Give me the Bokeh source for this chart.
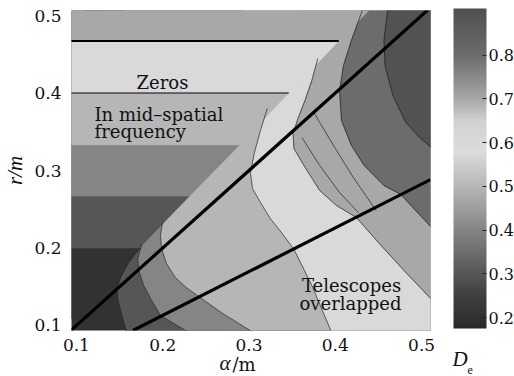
import numpy as np
from bokeh.plotting import figure
from bokeh.models import ColumnDataSource, LinearColorMapper, ColorBar, Label, FixedTicker
from bokeh.embed import file_html
from bokeh.resources import INLINE

# ---------------- data ----------------
x_ticks = [0.1, 0.2, 0.3, 0.4, 0.5]
y_ticks = [0.1, 0.2, 0.3, 0.4, 0.5]
cb_ticks = [0.2, 0.3, 0.4, 0.5, 0.6, 0.7, 0.8]

# "zeros in mid-spatial frequency" side: D_e depends on r only, in steps,
# left of the step boundary (alpha ~ 0.866 r)
step_r = [0.104, 0.2, 0.267, 0.333, 0.4, 0.467, 0.51]
step_alpha = [0.09, 0.173, 0.231, 0.289, 0.346, 0.404, 0.442]
step_De = [0.2, 0.3, 0.4, 0.5, 0.6, 0.7]

# contour boundaries elsewhere (alpha, r), listed top to bottom;
# the level named is the D_e band on the right-hand side of the boundary
L4_a = [0.109, 0.1734, 0.1607, 0.1516, 0.1470, 0.1481, 0.1527, 0.1585]
L4_r = [0.51, 0.1994, 0.1813, 0.1632, 0.1477, 0.1323, 0.1129, 0.091]
L3_a = [0.1321, 0.1756, 0.1711, 0.1722, 0.1779, 0.1871, 0.1974, 0.2300]
L3_r = [0.51, 0.2045, 0.1865, 0.1710, 0.1516, 0.1323, 0.1129, 0.091]
L2_a = [0.1550, 0.1997, 0.1974, 0.1986, 0.2043, 0.2146, 0.2272, 0.2433, 0.2700, 0.3050]
L2_r = [0.51, 0.2329, 0.2161, 0.1994, 0.1800, 0.1619, 0.1490, 0.1361, 0.1150, 0.091]
L1_a = [0.2926, 0.3212, 0.3132, 0.3063, 0.3017, 0.3040, 0.3132, 0.3246, 0.3384, 0.3521, 0.3728, 0.3957]
L1_r = [0.51, 0.3800, 0.3516, 0.3232, 0.2974, 0.2768, 0.2587, 0.2381, 0.2187, 0.1981, 0.1516, 0.091]
R1_a = [0.3613, 0.3797, 0.3728, 0.3648, 0.3567, 0.3510, 0.3521, 0.3636, 0.3819, 0.4014, 0.4244, 0.4530, 0.4817, 0.5126]
R1_r = [0.51, 0.4445, 0.4161, 0.3903, 0.3671, 0.3477, 0.3284, 0.3065, 0.2742, 0.2548, 0.2394, 0.2032, 0.1684, 0.1323]
C1_a = [0.4324, 0.4186, 0.4095, 0.4049, 0.4072, 0.4186, 0.4335, 0.4564, 0.4759, 0.4931, 0.5126]
C1_r = [0.51, 0.4677, 0.4355, 0.4032, 0.3645, 0.3323, 0.3065, 0.2806, 0.2690, 0.2484, 0.2252]
C2_a = [0.4610, 0.4564, 0.4576, 0.4668, 0.4817, 0.4989, 0.5126]
C2_r = [0.51, 0.4677, 0.4355, 0.3968, 0.3619, 0.3413, 0.3284]
curve_De = [0.3, 0.4, 0.5, 0.6, 0.7, 0.8, 0.9]
background_De = 0.2

# finer contour lines inside the 0.7 band
E1_a = [0.3751, 0.4014, 0.4209, 0.4473]
E1_r = [0.3748, 0.3258, 0.2910, 0.2484]
E2_a = [0.3613, 0.3819, 0.4049, 0.4267]
E2_r = [0.3426, 0.3065, 0.2716, 0.2458]

# thick boundary lines
upper_a = [0.0935, 0.507]
upper_r = [0.0935, 0.507]
lower_a = [0.1655, 0.5103]
lower_r = [0.0935, 0.2883]

# ---------------- styling ----------------
A_LO, A_HI, R_LO, R_HI = 0.09, 0.52, 0.09, 0.51
pal_pos = [0.175, 0.2, 0.25, 0.3, 0.4, 0.5, 0.58, 0.65, 0.7, 0.8, 0.907]
pal_gray = [40, 50, 64, 86, 133, 182, 220, 210, 168, 108, 80]


def gray(v):
    g = int(round(float(np.interp(v, pal_pos, pal_gray))))
    return "#%02x%02x%02x" % (g, g, g)


palette = [gray(v) for v in np.linspace(0.175, 0.907, 256)]

xs, ys, cols = [], [], []
xs.append([A_LO, A_HI, A_HI, A_LO]); ys.append([R_LO, R_LO, R_HI, R_HI]); cols.append(gray(background_De))
curves = [(L4_a, L4_r), (L3_a, L3_r), (L2_a, L2_r), (L1_a, L1_r), (R1_a, R1_r), (C1_a, C1_r), (C2_a, C2_r)]
for (ca, cr), lev in zip(curves, curve_De):
    xs.append(list(ca) + [A_HI, A_HI]); ys.append(list(cr) + [cr[-1], cr[0]]); cols.append(gray(lev))
for k, lev in enumerate(step_De):
    xs.append([A_LO, A_LO, step_alpha[k + 1], step_alpha[k]])
    ys.append([step_r[k], step_r[k + 1], step_r[k + 1], step_r[k]])
    cols.append(gray(lev))

p = figure(width=514, height=376, x_range=(0.0943, 0.5103), y_range=(0.0935, 0.5065),
           output_backend="svg", toolbar_location=None, title=None,
           min_border_left=67, min_border_right=84, min_border_top=10, min_border_bottom=46)
p.patches('xs', 'ys', fill_color='col', line_color='col', line_width=0.5,
          source=ColumnDataSource(dict(xs=xs, ys=ys, col=cols)))

first_visible = [1, 1, 1, 1, 1, 0, 0]
lx = [list(c[0][i:]) for c, i in zip(curves, first_visible)] + [E1_a, E2_a]
ly = [list(c[1][i:]) for c, i in zip(curves, first_visible)] + [E1_r, E2_r]
p.multi_line(lx, ly, line_color="#1a1a1a", line_width=0.8, line_alpha=0.85)

p.line([A_LO, step_alpha[5]], [step_r[5], step_r[5]], line_color="black", line_width=2)
p.line([A_LO, step_alpha[4]], [step_r[4], step_r[4]], line_color="black", line_width=1)
p.line(upper_a, upper_r, line_color="black", line_width=3.2)
p.line(lower_a, lower_r, line_color="black", line_width=3.2)

for ax, t in ((p.xaxis, x_ticks), (p.yaxis, y_ticks)):
    ax.ticker = FixedTicker(ticks=t)
    ax.major_label_text_font = "DejaVu Serif"
    ax.major_label_text_font_size = "17px"
    ax.major_label_text_color = "#111111"
    ax.axis_line_color = None
    ax.major_tick_line_color = None
    ax.minor_tick_line_color = None
p.xaxis.major_label_standoff = 2
p.yaxis.major_label_standoff = 4
p.yaxis.axis_label = "r/m"
p.yaxis.axis_label_text_font = "Liberation Serif"
p.yaxis.axis_label_text_font_style = "italic"
p.yaxis.axis_label_text_font_size = "21px"
p.yaxis.axis_label_text_color = "#111111"
p.yaxis.axis_label_standoff = 4
p.xgrid.visible = False
p.ygrid.visible = False
p.outline_line_color = None

mapper = LinearColorMapper(palette=palette, low=0.175, high=0.907)
cb = ColorBar(color_mapper=mapper, location=(382, 2), width=33, height=320, padding=0, margin=0,
              ticker=FixedTicker(ticks=cb_ticks), major_label_text_font="DejaVu Serif",
              major_label_text_font_size="16px", major_label_text_color="#111111",
              major_tick_in=4, major_tick_out=0, major_tick_line_color="#222222",
              label_standoff=2, bar_line_color=None, border_line_color=None,
              background_fill_alpha=0)
p.add_layout(cb)


def outside_text(x, y, text, font, size, style):
    # a horizontal colour bar with an invisible 1px scale, used only for its (unclipped) title
    p.add_layout(ColorBar(color_mapper=mapper, location=(x, y), width=1, height=1,
                          orientation="horizontal",
                          title=text, title_text_font=font, title_text_font_size=size,
                          title_text_font_style=style, title_text_color="#111111",
                          title_standoff=0, scale_alpha=0, ticker=FixedTicker(ticks=[]),
                          major_tick_line_color=None, minor_tick_line_color=None,
                          major_label_text_alpha=0, major_label_text_font_size="1px",
                          bar_line_color=None, border_line_color=None,
                          background_fill_alpha=0, padding=0, margin=0))


outside_text(148, -45, "\u03b1", "Liberation Serif", "21px", "italic")
outside_text(161, -45, "/m", "DejaVu Serif", "18px", "normal")
outside_text(381, -41, "D", "Liberation Serif", "21px", "italic")
outside_text(396, -44, "e", "Liberation Serif", "12px", "normal")


def lab(x, y, text, align="left"):
    p.add_layout(Label(x=x, y=y, x_units="screen", y_units="screen", text=text,
                       text_font="DejaVu Serif", text_font_size="18px",
                       text_align=align, text_baseline="alphabetic", text_color="#111111"))


lab(91, 248, "Zeros", align="center")
lab(23, 216, "In mid\u2013spatial")
lab(23, 199, "frequency")
lab(280, 45, "Telescopes", align="center")
lab(279, 27, "overlapped", align="center")

open("out.html", "w").write(file_html(p, INLINE))
